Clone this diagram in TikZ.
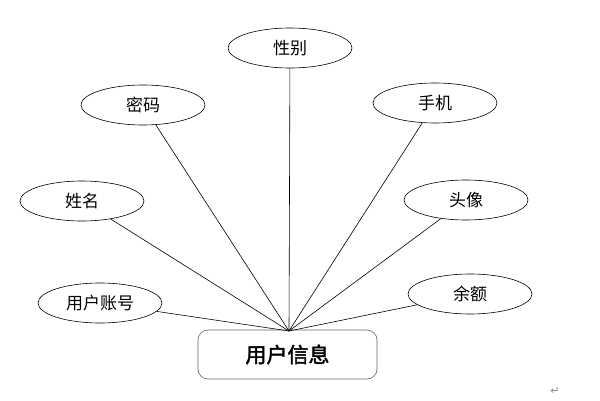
\documentclass[tikz,border=0pt]{standalone}
\usepackage{fontspec}
\newfontfamily\cjk{Noto Sans CJK SC}
\newfontfamily\cjkb[FakeBold=2]{Noto Sans CJK SC}
\newfontfamily\symb{DejaVu Sans}
\usetikzlibrary{positioning,shapes.geometric}

\begin{document}
\begin{tikzpicture}[x=1pt,y=-1pt,
  attr/.style={draw, ellipse, line width=0.6pt, minimum width=124pt,
    minimum height=40pt, inner sep=0pt, font=\cjk\fontsize{17}{17}\selectfont},
  link/.style={line width=0.6pt}]
\useasboundingbox (0,0) rectangle (600,401);

% entity
\node(user) [draw=black!60, line width=0.6pt, rounded corners=10pt,
  minimum width=179pt, minimum height=49pt, inner sep=0pt,
  font=\cjkb\fontsize{21}{21}\selectfont] at (287.5, 354.5) {用户信息};
\coordinate(hub) at (289, 331);

% attributes
\node(xb) [attr] at (290, 48) {性别};
\node(mm) [attr] at (143, 105) {密码};
\node(sj) [attr] at (435, 103) {手机};
\node(xm) [attr] at (82, 201) {姓名};
\node(tx) [attr] at (466, 200) {头像};
\node(zh) [attr] at (100, 303) {用户账号};
\node(ye) [attr] at (470, 294) {余额};

\draw[link] (xb) -- (hub);
\draw[link] (mm) -- (hub);
\draw[link] (sj) -- (hub);
\draw[link] (xm) -- (hub);
\draw[link] (tx) -- (hub);
\draw[link] (zh) -- (hub);
\draw[link] (ye) -- (hub);

\node(ret) [text=black!45, font=\symb\fontsize{11}{11}\selectfont, inner sep=0pt]
  at (555, 391) {↵};
\end{tikzpicture}
\end{document}
